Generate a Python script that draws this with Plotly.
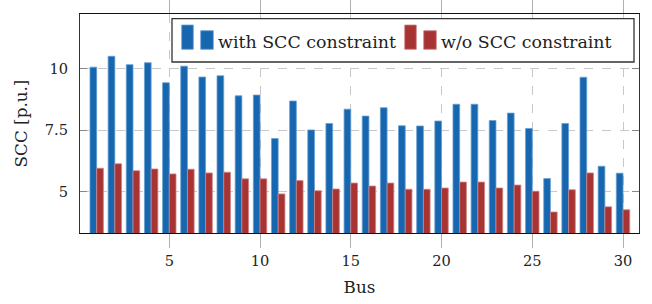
import plotly.graph_objects as go

bus = list(range(1, 31))
with_scc = [10.05, 10.49, 10.15, 10.23, 9.42, 10.09, 9.65, 9.70, 8.89, 8.92,
            7.16, 8.68, 7.51, 7.77, 8.35, 8.07, 8.41, 7.68, 7.67, 7.87,
            8.55, 8.55, 7.89, 8.19, 7.57, 5.54, 7.77, 9.64, 6.04, 5.76]
without_scc = [5.96, 6.14, 5.86, 5.93, 5.73, 5.92, 5.77, 5.80, 5.53, 5.53,
               4.92, 5.46, 5.05, 5.12, 5.36, 5.24, 5.36, 5.11, 5.11, 5.16,
               5.40, 5.40, 5.16, 5.28, 5.03, 4.19, 5.09, 5.77, 4.40, 4.28]
series_names = ["with SCC constraint", "w/o SCC constraint"]
x_ticks = [5, 10, 15, 20, 25, 30]
y_ticks = [5, 7.5, 10]
y_tick_text = ["5", "7.5", "10"]

FONT = "DejaVu Serif"
BLUE, BLUE_EDGE = "#1766b0", "#6a9fd2"
RED, RED_EDGE = "#a83333", "#cf8585"

W, H = 652, 304
ML, MR, MT, MB = 80, 13, 14, 71
PW, PH = W - ML - MR, H - MT - MB


def px(x):
    return (x - ML) / PW


def py(y):
    return (H - MB - y) / PH


fig = go.Figure()
fig.add_trace(go.Bar(x=bus, y=with_scc, name=series_names[0],
                     marker=dict(color=BLUE, line=dict(color=BLUE_EDGE, width=0.8))))
fig.add_trace(go.Bar(x=bus, y=without_scc, name=series_names[1],
                     marker=dict(color=RED, line=dict(color=RED_EDGE, width=0.8))))

shapes = []
annotations = []
# legend box
shapes.append(dict(type="rect", xref="paper", yref="paper",
                   x0=px(172), x1=px(634), y0=py(62), y1=py(18.7),
                   line=dict(color="#333", width=1.3), fillcolor="white", layer="above"))
legend_items = [
    (181.7, series_names[0], BLUE, BLUE_EDGE),
    (404.7, series_names[1], RED, RED_EDGE),
]
for x0, name, col, edge in legend_items:
    shapes.append(dict(type="rect", xref="paper", yref="paper",
                       x0=px(x0), x1=px(x0 + 11.6), y0=py(49.3), y1=py(25),
                       line=dict(color=edge, width=0.8), fillcolor=col, layer="above"))
    shapes.append(dict(type="rect", xref="paper", yref="paper",
                       x0=px(x0 + 19), x1=px(x0 + 31.6), y0=py(49.3), y1=py(30.7),
                       line=dict(color=edge, width=0.8), fillcolor=col, layer="above"))
    annotations.append(dict(xref="paper", yref="paper", x=px(x0 + 34), y=py(41.5),
                            xanchor="left", yanchor="middle", text=name, showarrow=False,
                            font=dict(family=FONT, size=17.4, color="#222")))

fig.update_layout(
    width=W, height=H,
    margin=dict(l=ML, r=MR, t=MT, b=MB),
    plot_bgcolor="white", paper_bgcolor="white",
    barmode="group", bargap=0.26, bargroupgap=0,
    font=dict(family=FONT, size=14.6, color="#222"),
    showlegend=False,
    shapes=shapes, annotations=annotations,
    xaxis=dict(range=[0.08, 30.88], tickvals=x_ticks, ticks="outside", ticklen=14,
               tickcolor="#b0b0b0", tickwidth=1.3, mirror="ticks", showline=True,
               linecolor="#111", linewidth=1.2, automargin=False,
               showgrid=True, gridcolor="#c8c8c8", griddash="dash", gridwidth=1,
               zeroline=False,
               title=dict(text="Bus", standoff=13, font=dict(family=FONT, size=16.8)),
               tickfont=dict(family=FONT, size=14.6)),
    yaxis=dict(range=[3.34, 12.2], tickvals=y_ticks, ticktext=y_tick_text,
               ticks="inside", ticklen=7, tickcolor="#888", tickwidth=1,
               mirror="ticks", showline=True, linecolor="#333", linewidth=1.2,
               showgrid=True, gridcolor="#c8c8c8", griddash="dash", gridwidth=1,
               zeroline=False, ticklabelstandoff=8, automargin=False,
               title=dict(text="SCC [p.u.]", standoff=12, font=dict(family=FONT, size=16.8)),
               tickfont=dict(family=FONT, size=14.6)),
)

fig.write_html("out.html", config={"displayModeBar": False},
               post_script="document.body.style.margin='0';document.body.style.overflow='hidden';")
